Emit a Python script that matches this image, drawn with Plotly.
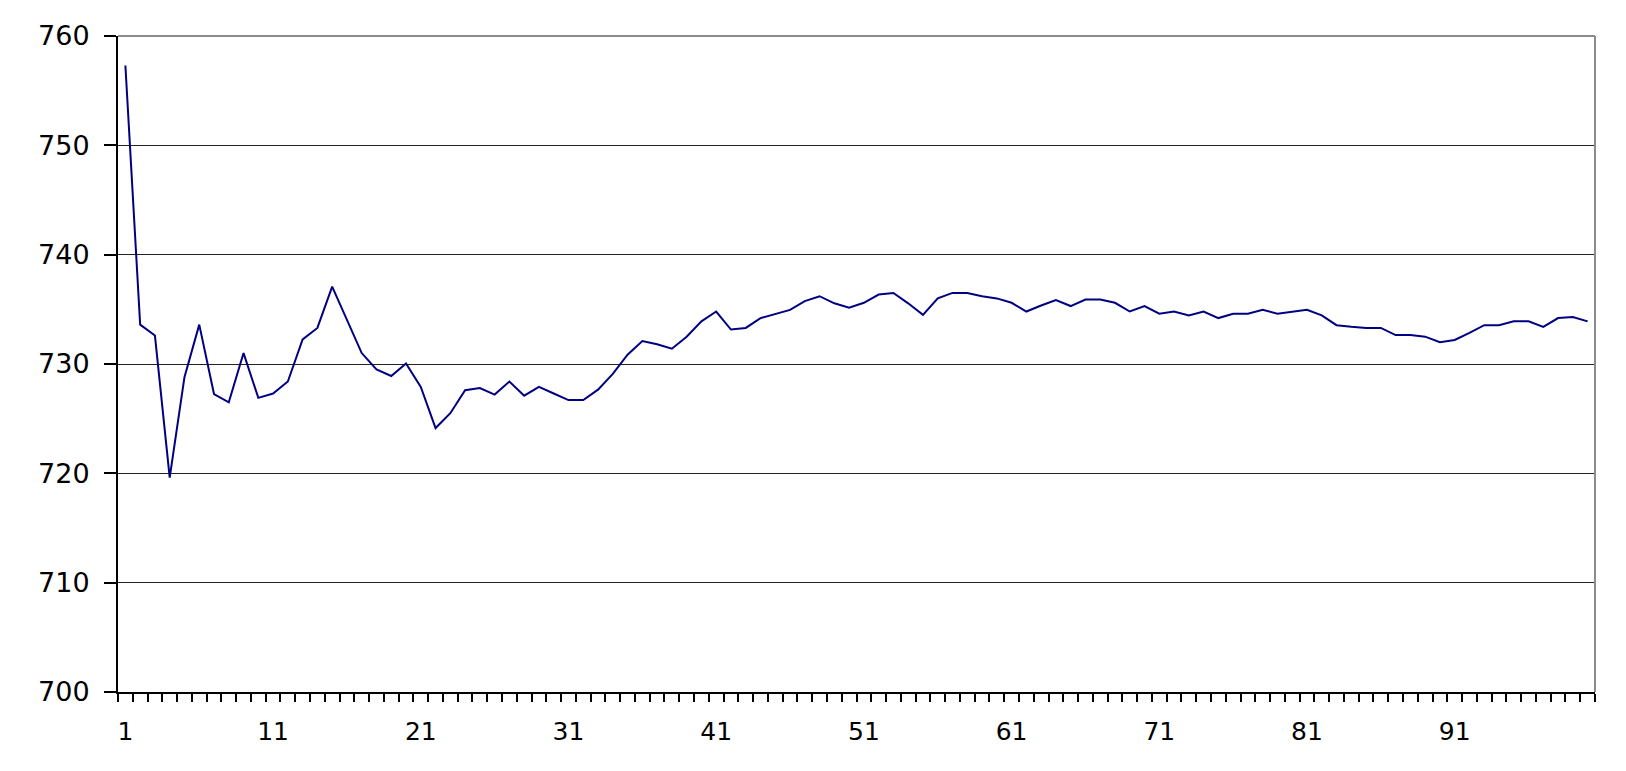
import plotly.graph_objects as go

x_values = list(range(1, 101))
y_values = [
    757.3, 733.6, 732.6, 719.6, 728.8, 733.6, 727.25, 726.5, 731.0, 726.9,
    727.3, 728.4, 732.25, 733.3, 737.07, 734.0, 731.0, 729.5, 728.9, 730.05,
    727.9, 724.14, 725.5, 727.6, 727.8, 727.2, 728.4, 727.1, 727.9, 727.3,
    726.7, 726.7, 727.65, 729.1, 730.85, 732.1, 731.8, 731.4, 732.5, 733.9,
    734.8, 733.15, 733.3, 734.2, 734.55, 734.95, 735.75, 736.2, 735.55, 735.15,
    735.6, 736.35, 736.5, 735.55, 734.5, 736.0, 736.5, 736.5, 736.2, 736.0,
    735.6, 734.8, 735.35, 735.85, 735.3, 735.9, 735.9, 735.6, 734.8, 735.3,
    734.6, 734.8, 734.45, 734.8, 734.2, 734.6, 734.6, 734.95, 734.6, 734.8,
    734.95, 734.45, 733.55, 733.4, 733.3, 733.3, 732.65, 732.65, 732.5, 732.0,
    732.2, 732.85, 733.55, 733.55, 733.9, 733.9, 733.4, 734.2, 734.3, 733.9,
]
x_tick_values = [1, 11, 21, 31, 41, 51, 61, 71, 81, 91]
x_tick_labels = [str(v) for v in x_tick_values]
y_tick_values = [700, 710, 720, 730, 740, 750, 760]

fig = go.Figure()
fig.add_trace(go.Scatter(
    x=x_values, y=y_values, mode="lines",
    line=dict(color="#000080", width=2),
    showlegend=False, hoverinfo="x+y",
))

fig.update_layout(
    width=1610, height=755,
    margin=dict(l=110, r=23, t=28, b=71),
    paper_bgcolor="white", plot_bgcolor="white",
    font=dict(family="DejaVu Sans", color="black"),
    xaxis=dict(
        range=[0.5, 100.5],
        tickmode="array", tickvals=x_tick_values, ticktext=x_tick_labels,
        ticks="", showgrid=False, zeroline=False,
        showline=True, linecolor="black", linewidth=2,
        tickfont=dict(size=25, family="DejaVu Sans", color="black"),
        ticklabelstandoff=16,
        minor=dict(tickmode="linear", tick0=0.5, dtick=1, ticks="outside",
                   ticklen=8, tickwidth=2, tickcolor="black", showgrid=False),
    ),
    yaxis=dict(
        range=[700, 760],
        tickmode="array", tickvals=y_tick_values,
        ticks="outside", ticklen=12, tickwidth=2, tickcolor="black",
        showgrid=True, gridcolor="#222222", gridwidth=1.3,
        zeroline=False,
        showline=True, linecolor="black", linewidth=2,
        tickfont=dict(size=27, family="DejaVu Sans", color="black"),
        ticklabelstandoff=9,
    ),
    shapes=[
        dict(type="line", xref="paper", yref="paper", x0=0, x1=1, y0=1, y1=1,
             line=dict(color="#8c8c8c", width=2), layer="above"),
        dict(type="line", xref="paper", yref="paper", x0=1, x1=1, y0=0, y1=1,
             line=dict(color="#8c8c8c", width=2), layer="above"),
    ],
)

fig.write_html("out.html")
